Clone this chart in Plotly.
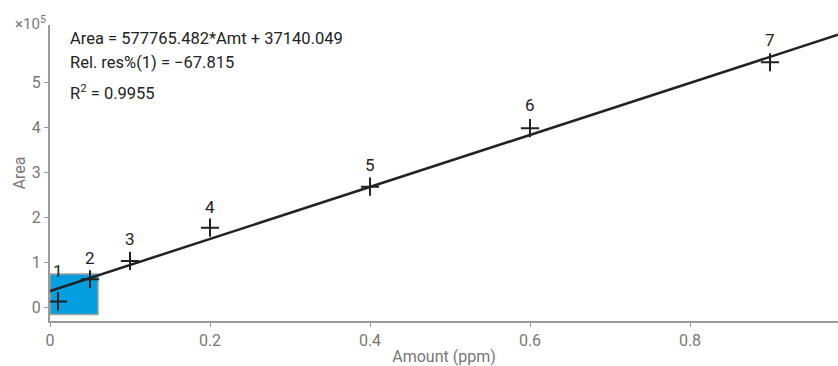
import plotly.graph_objects as go

# ---- data ----
levels = ["1", "2", "3", "4", "5", "6", "7"]
amount = [0.01, 0.05, 0.1, 0.2, 0.4, 0.6, 0.9]
area = [13800, 63100, 103800, 177800, 268900, 398700, 545300]
slope = 577765.482
intercept = 37140.049
r_squared = "0.9955"
rel_res = "−67.815"
x_ticks = [0, 0.2, 0.4, 0.6, 0.8]
x_tick_text = ["0", "0.2", "0.4", "0.6", "0.8"]
y_ticks = [0, 100000, 200000, 300000, 400000, 500000]
y_tick_text = ["0", "1", "2", "3", "4", "5"]
zoom_box_x = [0, 0.06]
zoom_box_y = [-15000, 75000]

x_range = [0, 0.985]
y_range = [-29600, 628000]

FONT = "Roboto, 'Noto Sans', sans-serif"
GRAY = "#777777"
DARK = "#222222"

fig = go.Figure()

# zoom/selection rectangle
fig.add_shape(type="rect", xref="x", yref="y",
              x0=zoom_box_x[0], x1=zoom_box_x[1], y0=zoom_box_y[0], y1=zoom_box_y[1],
              fillcolor="#039fe1", line=dict(color="#a0a0a0", width=1.5), layer="below")

# regression line
fig.add_trace(go.Scatter(
    x=[x_range[0], x_range[1]],
    y=[intercept + slope * x_range[0], intercept + slope * x_range[1]],
    mode="lines", line=dict(color=DARK, width=2.5), hoverinfo="skip", showlegend=False))

# calibration points
fig.add_trace(go.Scatter(
    x=amount, y=area, mode="markers",
    marker=dict(symbol="cross-thin", size=13, line=dict(color=DARK, width=2)),
    showlegend=False))

label_shift = [30, 21, 22, 21, 22, 23, 22]
for lv, xv, yv, s in zip(levels, amount, area, label_shift):
    fig.add_annotation(x=xv, y=yv, text=lv, showarrow=False, yshift=s,
                       xanchor="center", yanchor="middle",
                       font=dict(family=FONT, size=17, color=DARK))

# equation text
eq_lines = [
    (f"Area = {slope:.3f}*Amt + {intercept:.3f}", 38),
    (f"Rel. res%(1) = {rel_res}", 62),
    (f"R<sup>2</sup> = {r_squared}", 92),
]
for txt, ypx in eq_lines:
    fig.add_annotation(xref="paper", yref="paper", x=(68 - 50) / 788, y=1 - (ypx - 25) / 296,
                       text=txt, showarrow=False, xanchor="left", yanchor="middle",
                       font=dict(family=FONT, size=16.5, color=DARK))

# exponent label
fig.add_annotation(xref="paper", yref="paper", x=0, y=1, xshift=-2, yshift=2,
                   text="×10<sup>5</sup>", showarrow=False, xanchor="right", yanchor="middle",
                   font=dict(family=FONT, size=15, color=GRAY))

fig.update_layout(
    width=838, height=366,
    margin=dict(l=50, r=0, t=25, b=45),
    paper_bgcolor="white", plot_bgcolor="white",
    font=dict(family=FONT, color=GRAY),
    xaxis=dict(range=x_range, tickvals=x_ticks, ticktext=x_tick_text,
               showgrid=False, zeroline=False, showline=True, linecolor="#999999", linewidth=2,
               ticks="outside", ticklen=4, tickcolor="#999999", tickwidth=1,
               tickfont=dict(family=FONT, size=16, color=GRAY),
               title=dict(text="Amount (ppm)", font=dict(family=FONT, size=16, color=GRAY), standoff=3)),
    yaxis=dict(range=y_range, tickvals=y_ticks, ticktext=y_tick_text,
               showgrid=False, zeroline=False, showline=True, linecolor="#999999", linewidth=2,
               ticks="outside", ticklen=4, tickcolor="#999999", tickwidth=1,
               tickfont=dict(family=FONT, size=16, color=GRAY),
               title=dict(text="Area", font=dict(family=FONT, size=16, color=GRAY), standoff=2)),
)

fig.write_html("out.html")
